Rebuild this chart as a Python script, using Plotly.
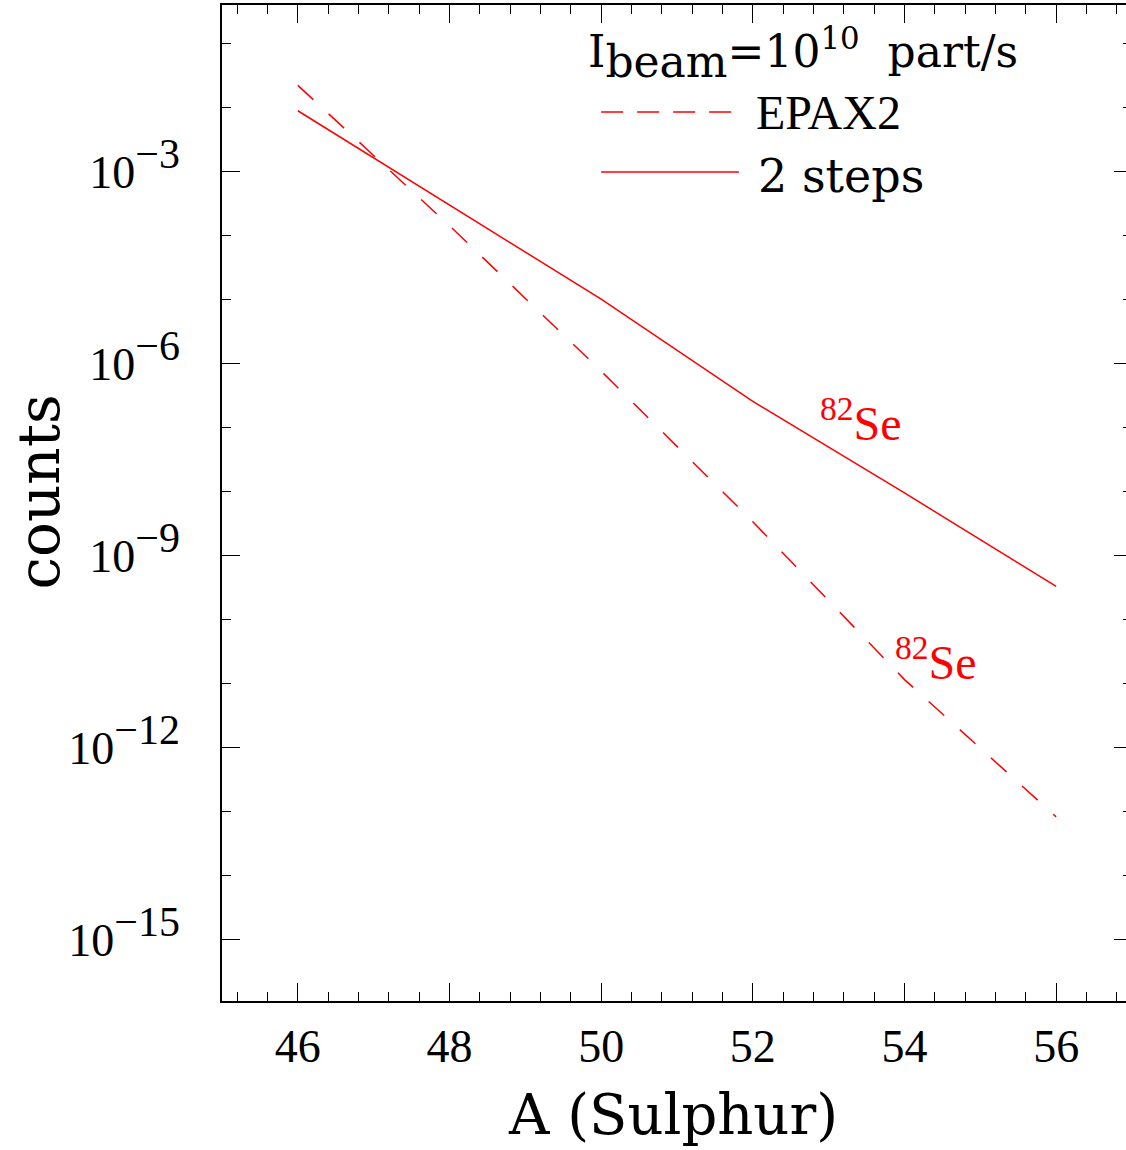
import math
import plotly.graph_objects as go

# ---- data ----
A_vals = [46, 48, 50, 52, 54, 56]
epax2_counts = [2.21e-2, 1.42e-4, 7.6e-7, 3.37e-9, 1.15e-11, 8.26e-14]
two_steps_counts = [8.87e-3, 3.02e-4, 1.01e-5, 2.55e-7, 9.5e-9, 3.28e-10]

x_tickvals = [46, 48, 50, 52, 54, 56]
y_tickvals = [1e-3, 1e-6, 1e-9, 1e-12, 1e-15]
y_exponents = ["\u22123", "\u22126", "\u22129", "\u221212", "\u221215"]
y_minorvals = [10.0 ** (-k) for k in range(1, 17)]

label_text = "<sup>82</sup>Se"
label_epax2 = (54.42, 10 ** -10.61)
label_two = (53.43, 10 ** -6.88)

RED = "#ff0000"
SERIF = "Liberation Serif"
WIDE = "DejaVu Serif"

y_ticktext = ["10<sup><span style='font-size:42px'>%s</span></sup>" % e for e in y_exponents]

fig = go.Figure()
fig.add_trace(go.Scatter(x=A_vals, y=epax2_counts, mode="lines", name="EPAX2",
                         line=dict(color=RED, width=1.5, dash="21px,21px"),
                         showlegend=False))
fig.add_trace(go.Scatter(x=A_vals, y=two_steps_counts, mode="lines", name="2 steps",
                         line=dict(color=RED, width=1.5), showlegend=False))

W, H = 1136, 1150
L, R, T, B = 222, 2, 5, 149
PW, PH = W - L - R, H - T - B


def px(xp):
    return (xp - L) / PW


def py(yp):
    return 1 - (yp - T) / PH


# legend keys
fig.add_shape(type="line", xref="paper", yref="paper", x0=px(602), x1=px(740), y0=py(112), y1=py(112),
              line=dict(color=RED, width=1.5, dash="22px,14px"))
fig.add_shape(type="line", xref="paper", yref="paper", x0=px(602), x1=px(740), y0=py(172), y1=py(172),
              line=dict(color=RED, width=1.5))

annots = [
    dict(text="I<sub><span style='font-size:44px'>beam</span></sub>=10<sup>10</sup>\u00a0 part/s",
         x=px(587), y=py(54), xanchor="left", yanchor="middle",
         font=dict(family=WIDE, size=44, color="black")),
    dict(text="EPAX2", x=px(755), y=py(112), xanchor="left", yanchor="middle",
         font=dict(family=SERIF, size=48, color="black")),
    dict(text="2 steps", x=px(757), y=py(176), xanchor="left", yanchor="middle",
         font=dict(family=WIDE, size=46, color="black")),
    dict(text="counts", x=px(39), y=py(492), textangle=-90, xanchor="center", yanchor="middle",
         font=dict(family=WIDE, size=58, color="black")),
    dict(text="A (Sulphur)", x=px(674), y=py(1114), xanchor="center", yanchor="middle",
         font=dict(family=WIDE, size=56, color="black")),
]
for a in annots:
    fig.add_annotation(xref="paper", yref="paper", showarrow=False, **a)

for (lx, ly) in (label_two, label_epax2):
    fig.add_annotation(x=lx, y=math.log10(ly), xref="x", yref="y", text=label_text, showarrow=False,
                       xanchor="center", yanchor="middle",
                       font=dict(family=SERIF, size=48, color=RED))

fig.update_xaxes(range=[45, 57], tickvals=x_tickvals, ticks="inside", ticklen=18, tickwidth=1.3,
                 tickcolor="black", showline=True, linecolor="black", linewidth=1.5, mirror="allticks",
                 showgrid=False, zeroline=False, ticklabelstandoff=4,
                 tickfont=dict(family=SERIF, size=46, color="black"),
                 minor=dict(dtick=0.4, tick0=45.2, ticks="inside", ticklen=9, tickwidth=1.3,
                            tickcolor="black", showgrid=False))
fig.update_yaxes(type="log", range=[-15.96, -0.40], tickvals=y_tickvals, ticktext=y_ticktext,
                 ticks="inside", ticklen=18, tickwidth=1.3, tickcolor="black", showline=True,
                 linecolor="black", linewidth=1.5, mirror="allticks", showgrid=False, zeroline=False,
                 ticklabelstandoff=31, tickfont=dict(family=SERIF, size=46, color="black"),
                 minor=dict(tickmode="array", tickvals=y_minorvals, ticks="inside", ticklen=9,
                            tickwidth=1.3, tickcolor="black", showgrid=False))

fig.update_layout(width=W, height=H, autosize=False,
                  margin=dict(l=L, r=R, t=T, b=B, pad=0),
                  paper_bgcolor="white", plot_bgcolor="white", showlegend=False)

fig.write_html("out.html", post_script="document.documentElement.style.overflow='hidden';document.body.style.overflow='hidden';")
